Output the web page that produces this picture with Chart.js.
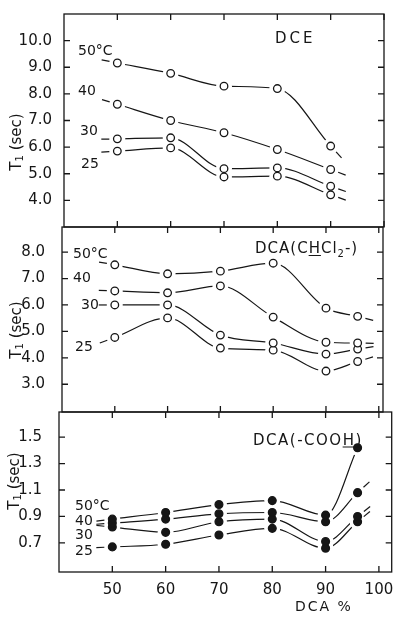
<!DOCTYPE html>
<html>
<head>
<meta charset="utf-8">
<title>T1 vs DCA %</title>
<script src="https://cdn.jsdelivr.net/npm/chart.js@4.4.1/dist/chart.umd.min.js"></script>
<style>
  body { margin: 0; background: #fff; }
  #wrap { position: relative; width: 397px; height: 619px; overflow: hidden;
          font-family: "DejaVu Sans", sans-serif; color: #161616; background: #fff; }
  #wrap canvas { position: absolute; left: 0; top: 0; }
  .lbl { position: absolute; white-space: nowrap; line-height: 1; transform: translateY(-50%); }
  .ytitle { position: absolute; white-space: nowrap; font-size: 15px; line-height: 1;
            transform: translate(-50%, -50%) rotate(-90deg); }
  .ytitle sub { font-size: 10px; vertical-align: -2px; }
  u { text-decoration-thickness: 1px; text-underline-offset: 2px; }
</style>
</head>
<body>
<div id="wrap">
  <canvas id="pDCE" width="397" height="619"></canvas>
  <canvas id="pCHCl" width="397" height="619"></canvas>
  <canvas id="pCOOH" width="397" height="619"></canvas>

  <div class="ytitle" style="left:17px; top:142px">T<sub>1</sub> (sec)</div>
  <div class="ytitle" style="left:17px; top:330px">T<sub>1</sub> (sec)</div>
  <div class="ytitle" style="left:15px; top:481px">T<sub>1</sub> (sec)</div>

  <div class="lbl" style="left:275px; top:38px; font-size:15px; letter-spacing:3px">DCE</div>
  <div class="lbl" style="left:78px; top:50px; font-size:14px">50°C</div>
  <div class="lbl" style="left:78px; top:90px; font-size:14px">40</div>
  <div class="lbl" style="left:80px; top:130px; font-size:14px">30</div>
  <div class="lbl" style="left:81px; top:163px; font-size:14px">25</div>

  <div class="lbl" style="left:255px; top:250px; font-size:15px; letter-spacing:1px">DCA(C<u>H</u>Cl<sub style="font-size:10px">2</sub>-)</div>
  <div class="lbl" style="left:73px; top:253px; font-size:14px">50°C</div>
  <div class="lbl" style="left:73px; top:277px; font-size:14px">40</div>
  <div class="lbl" style="left:81px; top:304px; font-size:14px">30</div>
  <div class="lbl" style="left:75px; top:346px; font-size:14px">25</div>

  <div class="lbl" style="left:253px; top:440px; font-size:15px; letter-spacing:1.5px">DCA(-COO<u>H</u>)</div>
  <div class="lbl" style="left:75px; top:505px; font-size:14px">50°C</div>
  <div class="lbl" style="left:75px; top:520px; font-size:14px">40</div>
  <div class="lbl" style="left:75px; top:534px; font-size:14px">30</div>
  <div class="lbl" style="left:75px; top:550px; font-size:14px">25</div>

  <div class="lbl" style="left:295px; top:606px; font-size:14px; letter-spacing:2px">DCA %</div>
</div>
<script>
// DCA content (%) of the solvent mixture
const dcaPct = [50, 60, 70, 80, 90, 96];
const xTicks = [50, 60, 70, 80, 90, 100];

// T1 (sec) of DCE, at 50, 40, 30 and 25 °C
const dce50 = [9.16, 8.77, 8.29, 8.20, 6.04];
const dce40 = [7.61, 7.00, 6.54, 5.91, 5.16];
const dce30 = [6.31, 6.35, 5.19, 5.22, 4.53];
const dce25 = [5.85, 5.97, 4.88, 4.91, 4.21];
const dceTicks = [4, 5, 6, 7, 8, 9, 10];

// T1 (sec) of the CHCl2- proton of DCA
const chcl50 = [7.52, 7.18, 7.28, 7.58, 5.88, 5.57];
const chcl40 = [6.53, 6.46, 6.72, 5.54, 4.59, 4.56];
const chcl30 = [6.00, 6.00, 4.86, 4.56, 4.14, 4.33];
const chcl25 = [4.77, 5.51, 4.37, 4.29, 3.50, 3.86];
const chclTicks = [3, 4, 5, 6, 7, 8];

// T1 (sec) of the -COOH proton of DCA
const cooh50 = [0.88, 0.93, 0.99, 1.02, 0.91, 1.42];
const cooh40 = [0.85, 0.88, 0.92, 0.93, 0.86, 1.08];
const cooh30 = [0.82, 0.78, 0.86, 0.88, 0.71, 0.90];
const cooh25 = [0.67, 0.69, 0.76, 0.81, 0.66, 0.86];
const coohTicks = [0.7, 0.9, 1.1, 1.3, 1.5];

const INK = '#161616';
const W = 397, H = 619;

// frame with inward tick marks on all four sides
const framePlugin = {
  id: 'frame',
  afterDraw(chart) {
    const { ctx, chartArea: a, scales } = chart;
    const t = 6;
    ctx.save();
    ctx.strokeStyle = INK;
    ctx.lineWidth = 1.3;
    ctx.strokeRect(a.left, a.top, a.right - a.left, a.bottom - a.top);
    ctx.beginPath();
    xTicks.forEach(v => {
      const x = scales.x.getPixelForValue(v);
      ctx.moveTo(x, a.top); ctx.lineTo(x, a.top + t);
      ctx.moveTo(x, a.bottom); ctx.lineTo(x, a.bottom - t);
    });
    chart.options.yTickList.forEach(v => {
      const y = scales.y.getPixelForValue(v);
      ctx.moveTo(a.left, y); ctx.lineTo(a.left + t, y);
      ctx.moveTo(a.right, y); ctx.lineTo(a.right - t, y);
    });
    ctx.stroke();
    ctx.restore();
  }
};

// curves stop short of every marker: wipe a small disc round each point
// once all curves are down, just before the first marker set is drawn
const gapPlugin = {
  id: 'gaps',
  beforeDatasetsDraw(chart) { chart.$gapsDone = false; },
  beforeDatasetDraw(chart, args) {
    const ds = chart.data.datasets[args.index];
    if (!ds.marker || chart.$gapsDone) return;
    chart.$gapsDone = true;
    const { ctx } = chart;
    ctx.save();
    ctx.fillStyle = '#ffffff';
    chart.data.datasets.forEach((d, i) => {
      if (!d.marker) return;
      chart.getDatasetMeta(i).data.forEach(p => {
        ctx.beginPath();
        ctx.arc(p.x, p.y, 8, 0, Math.PI * 2);
        ctx.fill();
      });
    });
    ctx.restore();
  }
};

// short curve ends running past the first and last points
const stubPlugin = {
  id: 'stubs',
  afterDatasetsDraw(chart) {
    const { ctx } = chart;
    ctx.save();
    ctx.strokeStyle = INK;
    ctx.lineWidth = 1.2;
    chart.data.datasets.forEach((ds, i) => {
      if (!ds.stub) return;
      const pts = chart.getDatasetMeta(i).data;
      const ends = [];
      if (ds.stub.lead) ends.push([pts[0], pts[1]]);
      if (ds.stub.tail) ends.push([pts[pts.length - 1], pts[pts.length - 2]]);
      ends.forEach(([p, q]) => {
        const dx = p.x - q.x, dy = p.y - q.y;
        const len = Math.hypot(dx, dy);
        const ux = dx / len, uy = dy / len;
        ctx.beginPath();
        ctx.moveTo(p.x + ux * 8, p.y + uy * 8);
        ctx.lineTo(p.x + ux * 16, p.y + uy * 16);
        ctx.stroke();
      });
    });
    ctx.restore();
  }
};

function makePanel(id, series, cfg) {
  const datasets = [];
  series.forEach((vals, i) => {
    const pts = vals.map((v, j) => ({ x: dcaPct[j], y: v }));
    // the curve itself
    datasets.push({
      data: pts, borderColor: INK, borderWidth: 1.2,
      cubicInterpolationMode: 'monotone',
      pointRadius: 0, fill: false, order: 2,
      stub: { lead: true, tail: !cfg.noTail.includes(i) }
    });
    // the point marker
    datasets.push({
      data: pts, showLine: false, marker: true,
      pointRadius: cfg.filled ? 3.9 : 3.8,
      pointBackgroundColor: cfg.filled ? INK : '#fff',
      pointBorderColor: INK, pointBorderWidth: 1.3, order: 1
    });
  });

  const b = cfg.box;
  return new Chart(document.getElementById(id), {
    type: 'line',
    data: { datasets },
    options: {
      responsive: false,
      animation: false,
      events: [],
      yTickList: cfg.yTicks,
      layout: { padding: { top: b.top, left: 0, right: W - b.right,
                           bottom: cfg.showX ? 0 : H - b.bottom } },
      plugins: { legend: { display: false }, tooltip: { enabled: false } },
      scales: {
        x: {
          type: 'linear', min: 40, max: cfg.xMax,
          display: cfg.showX,
          afterBuildTicks: s => { s.ticks = xTicks.map(v => ({ value: v })); },
          afterFit: s => { if (cfg.showX) s.height = H - b.bottom; },
          grid: { display: false }, border: { display: false },
          ticks: { color: INK, font: { family: 'DejaVu Sans', size: 15 }, padding: 1,
                   maxRotation: 0, autoSkip: false }
        },
        y: {
          min: cfg.yMin, max: cfg.yMax,
          afterBuildTicks: s => { s.ticks = cfg.yTicks.map(v => ({ value: v })); },
          afterFit: s => { s.width = b.left; },
          grid: { display: false }, border: { display: false },
          ticks: { color: INK, font: { family: 'DejaVu Sans', size: 15 }, padding: cfg.yPad,
                   callback: v => v.toFixed(1) }
        }
      }
    },
    plugins: [gapPlugin, framePlugin, stubPlugin]
  });
}

makePanel('pDCE', [dce50, dce40, dce30, dce25], {
  box: { top: 14, bottom: 227, left: 64, right: 384 },
  xMax: 100, yMin: 3, yMax: 11, yTicks: dceTicks, yPad: 4,
  filled: false, noTail: [], showX: false
});

makePanel('pCHCl', [chcl50, chcl40, chcl30, chcl25], {
  box: { top: 227, bottom: 412, left: 62, right: 383 },
  xMax: 100.8, yMin: 1.95, yMax: 8.95, yTicks: chclTicks, yPad: 9,
  filled: false, noTail: [], showX: false
});

makePanel('pCOOH', [cooh50, cooh40, cooh30, cooh25], {
  box: { top: 412, bottom: 572, left: 59, right: 392 },
  xMax: 102.4, yMin: 0.48, yMax: 1.69, yTicks: coohTicks, yPad: 9,
  filled: true, noTail: [0], showX: true
});
</script>
</body>
</html>
